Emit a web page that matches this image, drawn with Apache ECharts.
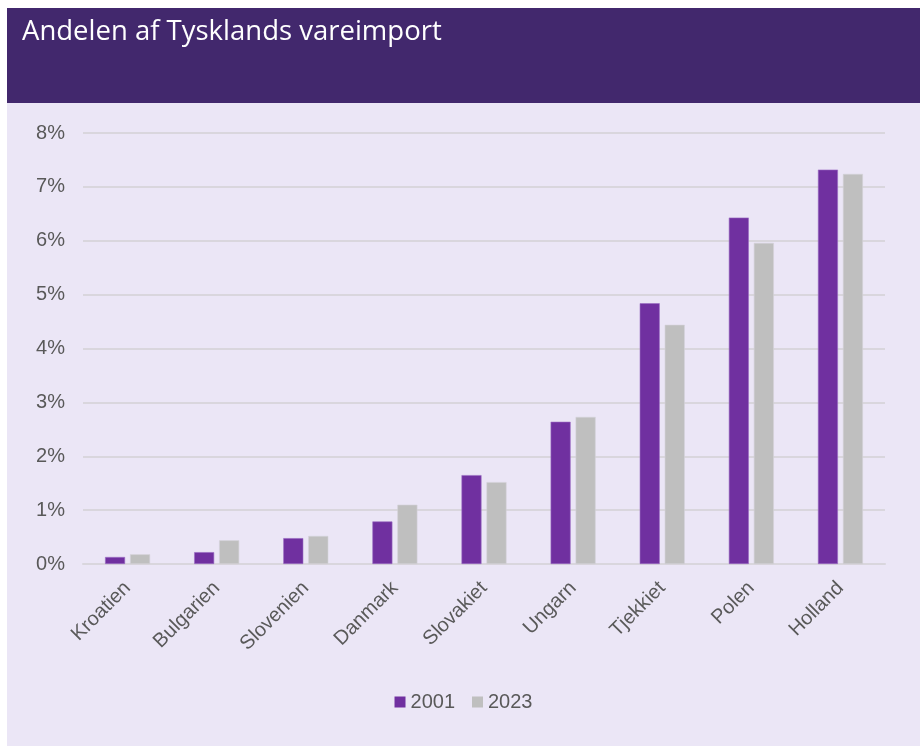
<!DOCTYPE html>
<html>
<head>
<meta charset="utf-8">
<script src="https://cdn.jsdelivr.net/npm/echarts@6/dist/echarts.min.js"></script>
<style>
  html, body { margin: 0; padding: 0; background: #ffffff; }
  #chart { position: absolute; left: 7px; top: 8px; width: 913px; height: 738px; }
</style>
</head>
<body>
<div id="chart"></div>
<script>
// data
var countries = ['Kroatien', 'Bulgarien', 'Slovenien', 'Danmark', 'Slovakiet', 'Ungarn', 'Tjekkiet', 'Polen', 'Holland']
var share2001 = [0.13, 0.22, 0.48, 0.79, 1.65, 2.64, 4.84, 6.43, 7.32]
var share2023 = [0.18, 0.44, 0.52, 1.10, 1.52, 2.73, 4.44, 5.96, 7.24]

var chart = echarts.init(document.getElementById('chart'))
var labelColor = '#595959'
var font = "'Liberation Sans', Arial, sans-serif"

chart.setOption({
  backgroundColor: '#ebe6f6',
  animation: false,
  title: {
    text: 'Andelen af Tysklands vareimport',
    left: 10,
    top: 5,
    textStyle: {
      color: '#ffffff',
      fontSize: 27.5,
      fontWeight: 'normal',
      fontFamily: "'Open Sans', sans-serif"
    }
  },
  graphic: [{
    type: 'rect',
    z: -1,
    shape: { x: 0, y: 0, width: 913, height: 95 },
    style: { fill: '#42286d' }
  }],
  grid: {
    left: 76,
    right: 35,
    top: 125,
    bottom: 182
  },
  legend: {
    data: ['2001', '2023'],
    left: 'center',
    top: 679,
    itemWidth: 11,
    itemHeight: 11,
    itemGap: 17,
    icon: 'rect',
    itemStyle: { borderWidth: 0 },
    textStyle: { color: labelColor, fontSize: 20, fontFamily: font }
  },
  xAxis: {
    type: 'category',
    data: countries,
    axisLine: { lineStyle: { color: '#d9d6dd', width: 2 } },
    axisTick: { show: false },
    axisLabel: {
      rotate: 45,
      margin: 21,
      interval: 0,
      color: labelColor,
      fontSize: 20,
      fontFamily: font
    }
  },
  yAxis: {
    type: 'value',
    min: 0,
    max: 8,
    interval: 1,
    axisLine: { show: false },
    axisTick: { show: false },
    splitLine: { lineStyle: { color: '#d9d6dd', width: 2 } },
    axisLabel: {
      formatter: '{value}%',
      margin: 18,
      color: labelColor,
      fontSize: 20,
      fontFamily: font
    }
  },
  series: [
    {
      name: '2001',
      type: 'bar',
      data: share2001,
      barWidth: 20,
      barGap: '25%',
      itemStyle: { color: '#7030a0', borderColor: '#9a6cc2', borderWidth: 0.6 }
    },
    {
      name: '2023',
      type: 'bar',
      data: share2023,
      barWidth: 20,
      itemStyle: { color: '#bfbfbf', borderColor: '#d4d2d8', borderWidth: 0.6 }
    }
  ]
})
</script>
</body>
</html>
